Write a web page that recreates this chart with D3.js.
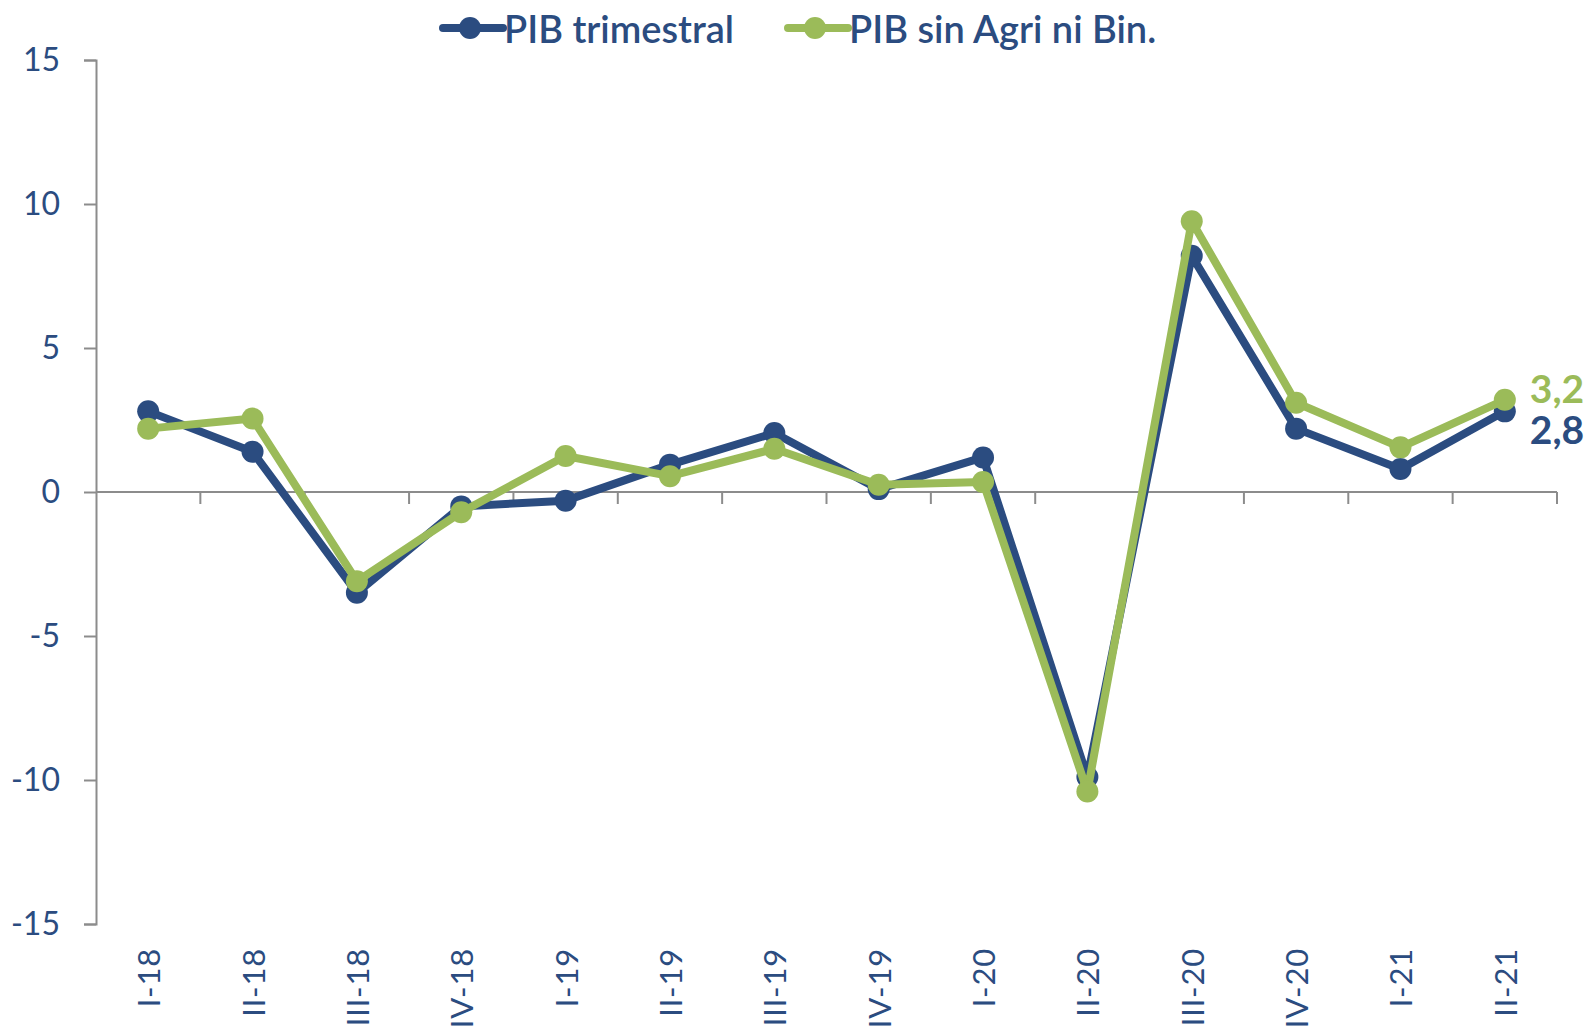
<!DOCTYPE html>
<html>
<head>
<meta charset="utf-8">
<script src="https://cdn.jsdelivr.net/npm/d3@7"></script>
<style>
  body { margin: 0; background: #fff; }
  svg text { font-family: "Lato", "Open Sans", sans-serif; }
</style>
</head>
<body>
<div id="chart"></div>
<script>
// quarters on the x axis
var quarters = ["I-18", "II-18", "III-18", "IV-18", "I-19", "II-19", "III-19", "IV-19",
                "I-20", "II-20", "III-20", "IV-20", "I-21", "II-21"];

// PIB trimestral (var. %)
var pibTrimestral = [2.8, 1.4, -3.5, -0.5, -0.3, 0.95, 2.05, 0.1, 1.2, -9.9, 8.2, 2.2, 0.8, 2.8];

// PIB sin agricultura ni binacionales
var pibSinAgri = [2.2, 2.55, -3.1, -0.7, 1.25, 0.55, 1.5, 0.25, 0.35, -10.4, 9.4, 3.1, 1.55, 3.2];

var yTicks = [-15, -10, -5, 0, 5, 10, 15];

var width = 1589,
    height = 1032;

var margin = { left: 96, right: 32, top: 60, bottom: 108 };

var blue = "#2B4C80",
    green = "#9BBB59",
    axisGrey = "#8C8C8C";

var svg = d3.select("#chart")
    .append("svg")
    .attr("width", width)
    .attr("height", height);

var x = d3.scaleBand()
    .domain(quarters)
    .range([margin.left, width - margin.right]);

var y = d3.scaleLinear()
    .domain([-15, 15])
    .range([height - margin.bottom, margin.top]);

// y axis
var yAxis = d3.axisLeft(y)
    .tickValues(yTicks)
    .tickSize(12)
    .tickPadding(24);

var gy = svg.append("g")
    .attr("transform", "translate(" + margin.left + ",0)")
    .call(yAxis);
gy.select(".domain").attr("stroke", axisGrey).attr("stroke-width", 2);
gy.selectAll(".tick line").attr("stroke", axisGrey).attr("stroke-width", 2);
gy.selectAll(".tick text")
    .attr("fill", blue)
    .attr("font-size", 32)
    .text(function (d) { return d; });

// zero line with ticks at the band edges
svg.append("line")
    .attr("x1", margin.left)
    .attr("x2", width - margin.right)
    .attr("y1", y(0))
    .attr("y2", y(0))
    .attr("stroke", axisGrey)
    .attr("stroke-width", 2);

svg.append("g")
    .selectAll("line")
    .data(quarters)
    .enter()
    .append("line")
    .attr("x1", function (d) { return x(d) + x.bandwidth(); })
    .attr("x2", function (d) { return x(d) + x.bandwidth(); })
    .attr("y1", y(0))
    .attr("y2", y(0) + 12)
    .attr("stroke", axisGrey)
    .attr("stroke-width", 2);

// x labels, rotated
svg.append("g")
    .selectAll("text")
    .data(quarters)
    .enter()
    .append("text")
    .attr("transform", function (d) {
        return "translate(" + (x(d) + x.bandwidth() / 2) + "," + (height - margin.bottom + 24) + ") rotate(-90)";
    })
    .attr("text-anchor", "end")
    .attr("dominant-baseline", "central")
    .attr("fill", blue)
    .attr("font-size", 31)
    .attr("letter-spacing", 0.8)
    .text(function (d) { return d; });

// series
var series = [
    { name: "PIB trimestral", values: pibTrimestral, color: blue },
    { name: "PIB sin Agri ni Bin.", values: pibSinAgri, color: green }
];

var line = d3.line()
    .x(function (d, i) { return x(quarters[i]) + x.bandwidth() / 2; })
    .y(function (d) { return y(d); });

series.forEach(function (s) {
    var g = svg.append("g");
    g.append("path")
        .datum(s.values)
        .attr("d", line)
        .attr("fill", "none")
        .attr("stroke", s.color)
        .attr("stroke-width", 8)
        .attr("stroke-linejoin", "round");
    g.selectAll("circle")
        .data(s.values)
        .enter()
        .append("circle")
        .attr("cx", function (d, i) { return x(quarters[i]) + x.bandwidth() / 2; })
        .attr("cy", function (d) { return y(d); })
        .attr("r", 11)
        .attr("fill", s.color);
});

// end labels
var lastX = x(quarters[quarters.length - 1]) + x.bandwidth() / 2;
svg.append("text")
    .attr("x", lastX + 25)
    .attr("y", y(pibSinAgri[pibSinAgri.length - 1]) - 12)
    .attr("dominant-baseline", "central")
    .attr("fill", green)
    .attr("font-size", 39)
    .attr("font-weight", "bold")
    .text(String(pibSinAgri[pibSinAgri.length - 1]).replace(".", ","));
svg.append("text")
    .attr("x", lastX + 25)
    .attr("y", y(pibTrimestral[pibTrimestral.length - 1]) + 18)
    .attr("dominant-baseline", "central")
    .attr("fill", blue)
    .attr("font-size", 39)
    .attr("font-weight", "bold")
    .text(String(pibTrimestral[pibTrimestral.length - 1]).replace(".", ","));

// legend
var legendX = [443, 788];
var legend = svg.append("g")
    .selectAll("g")
    .data(series)
    .enter()
    .append("g")
    .attr("transform", function (d, i) { return "translate(" + legendX[i] + ",28)"; });
legend.append("line")
    .attr("x1", 0).attr("x2", 60)
    .attr("stroke", function (d) { return d.color; })
    .attr("stroke-width", 8)
    .attr("stroke-linecap", "round");
legend.append("circle")
    .attr("cx", 27)
    .attr("r", 11)
    .attr("fill", function (d) { return d.color; });
legend.append("text")
    .attr("x", 61)
    .attr("dominant-baseline", "central")
    .attr("fill", blue)
    .attr("font-size", 38)
    .attr("font-weight", 600)
    .text(function (d) { return d.name; });
</script>
</body>
</html>
